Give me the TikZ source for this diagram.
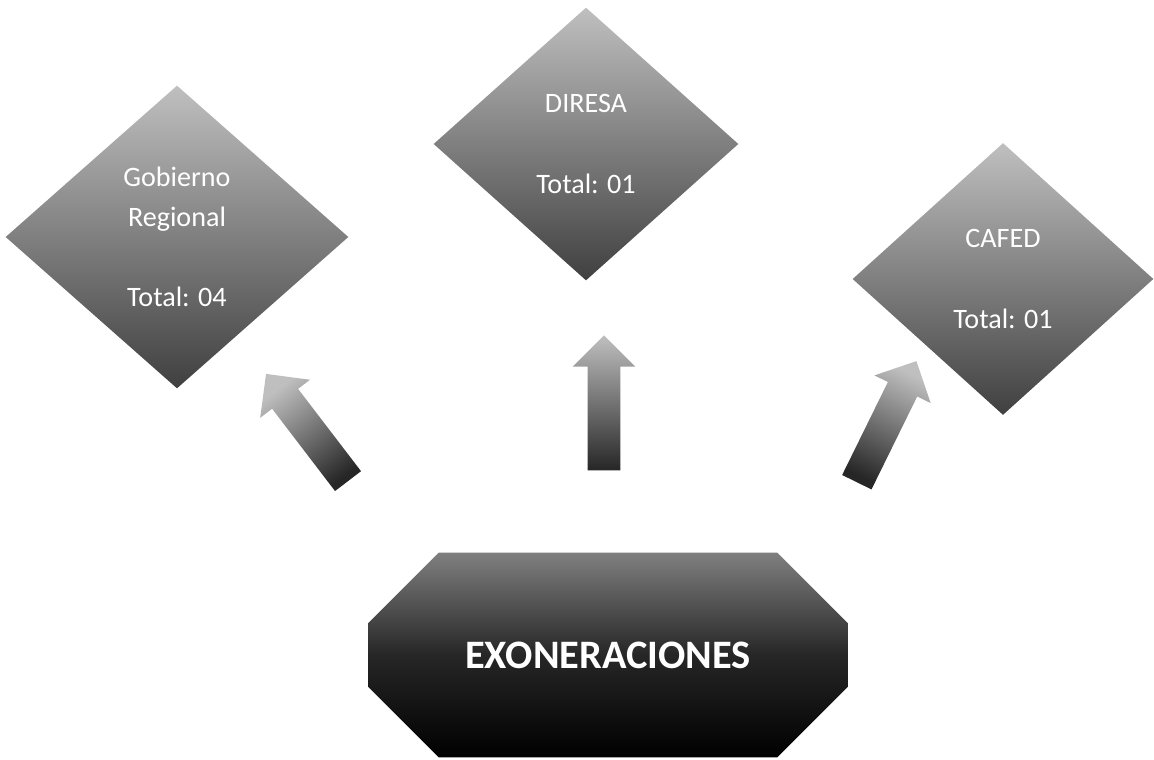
\documentclass[tikz,border=0pt]{standalone}
\usepackage{fontspec}
\setmainfont{Carlito}
\usetikzlibrary{shapes.geometric, shapes.arrows, shapes.misc, positioning}

\begin{document}
\begin{tikzpicture}
	[x=0.02cm, y=-0.02cm,
	 rombo/.style={diamond, inner sep=0pt, text=white, align=center,
	   top color=black!25, bottom color=black!75,
	   font=\fontsize{16}{22.8}\selectfont},
	 flecha/.style={single arrow, inner xsep=0pt, inner ysep=0.32cm,
	   minimum height=2.7cm, single arrow head extend=0.3cm,
	   top color=black!25, bottom color=black!85}]
   \useasboundingbox (0,0) rectangle (1154,760);
   \node[rombo, minimum width=6.86cm, minimum height=6.06cm] (d_1) at (177,237)
        {Gobierno\\Regional\\[22.8pt]Total: 04};
   \node[rombo, minimum width=6.1cm, minimum height=5.46cm] (d_2) at (586,144)
        {DIRESA\\[22.8pt]Total: 01};
   \node[rombo, minimum width=6.02cm, minimum height=5.44cm] (d_3) at (1003,279)
        {CAFED\\[22.8pt]Total: 01};
   \node[chamfered rectangle, chamfered rectangle xsep=1.2cm,
         chamfered rectangle ysep=1.15cm, inner sep=0pt,
         minimum width=9.6cm, minimum height=4.1cm,
         top color=black!50, bottom color=black, middle color=black!85,
         text=white, font=\fontsize{23}{28}\bfseries\selectfont] (e) at (608,655)
        {EXONERACIONES};
   % flechas hacia cada rombo
   \node[flecha, shading angle=37.4, rotate=127.4] (a_1) at (312,434) {};
   \node[flecha, shading angle=0, rotate=90] (a_2) at (604,411) {};
   \node[flecha, shading angle=-26.2, rotate=63.8] (a_3) at (883,429) {};
\end{tikzpicture}
\end{document}
